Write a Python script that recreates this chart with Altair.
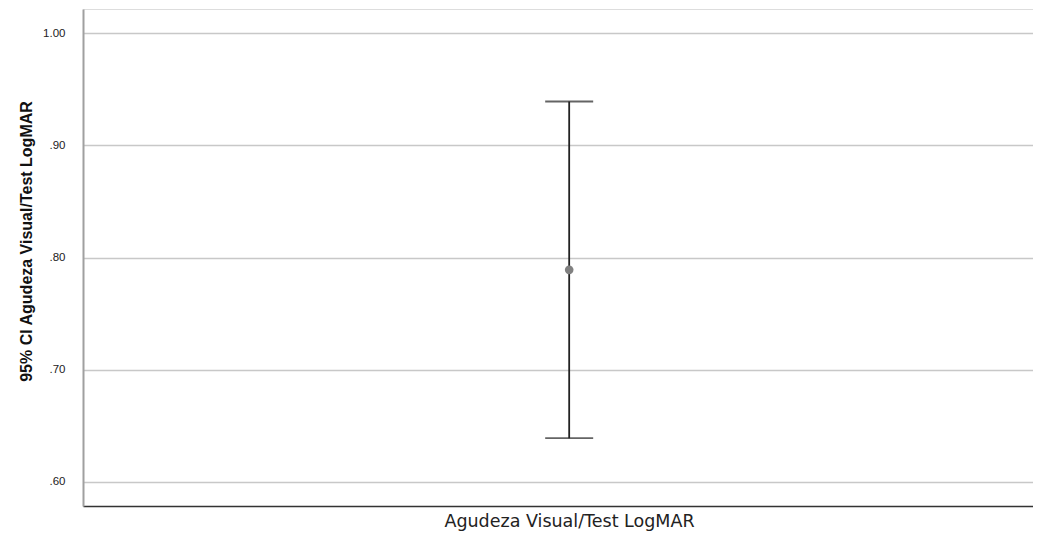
import altair as alt
import pandas as pd

category = ["Agudeza Visual/Test LogMAR"]
mean_vals = [0.789]
ci_low = [0.639]
ci_high = [0.939]
y_ticks = [0.60, 0.70, 0.80, 0.90, 1.00]

df = pd.DataFrame({"cat": category, "x": [0.5], "mean": mean_vals, "lo": ci_low, "hi": ci_high})

xscale = alt.Scale(domain=[0, 0.977])
yscale = alt.Scale(domain=[0.5786, 1.0214], nice=False, zero=False)

xaxis = alt.Axis(title=category[0], labels=False, ticks=False, grid=False,
                 domainColor="#333333", domainWidth=1.5,
                 titleFont="DejaVu Sans", titleFontSize=17.5, titleFontWeight="normal",
                 titleColor="#222222", titlePadding=6, titleX=486, titleAlign="center")
yaxis = alt.Axis(title="95% CI Agudeza Visual/Test LogMAR", values=y_ticks,
                 labelExpr="datum.value < 1 ? substring(format(datum.value, '.2f'), 1) : format(datum.value, '.2f')",
                 ticks=False, grid=True, gridColor="#c8c8c8", gridWidth=1.5,
                 domainColor="#a0a0a0", domainWidth=2,
                 labelFont="Liberation Sans", labelFontSize=11.5, labelColor="#222222", labelPadding=18,
                 titleFont="Liberation Sans", titleFontSize=16, titleFontWeight="bold", titleColor="#111111",
                 titleX=-57, titleY=232, titleBaseline="middle", titleAlign="center")

base = alt.Chart(df)

rule = base.mark_rule(color="#222222", strokeWidth=1.8).encode(
    x=alt.X("x:Q", scale=xscale, axis=xaxis),
    y=alt.Y("lo:Q", scale=yscale, axis=yaxis),
    y2="hi:Q",
)
cap_lo = base.mark_tick(color="#222222", orient="horizontal", size=48, thickness=1.8).encode(
    x=alt.X("x:Q", scale=xscale), y=alt.Y("lo:Q", scale=yscale))
cap_hi = base.mark_tick(color="#222222", orient="horizontal", size=48, thickness=1.8).encode(
    x=alt.X("x:Q", scale=xscale), y=alt.Y("hi:Q", scale=yscale))
pt = base.mark_point(filled=True, color="#808080", size=75, opacity=1).encode(
    x=alt.X("x:Q", scale=xscale), y=alt.Y("mean:Q", scale=yscale))

chart = alt.layer(rule, cap_lo, cap_hi, pt).properties(
    width=950, height=497,
    padding={"left": 75, "top": 1, "right": 0, "bottom": 26},
    autosize=alt.AutoSizeParams(type="none"),
).configure_view(stroke=None).configure(background="white")

chart.save("out.html", embed_options={"renderer": "svg", "actions": False})
